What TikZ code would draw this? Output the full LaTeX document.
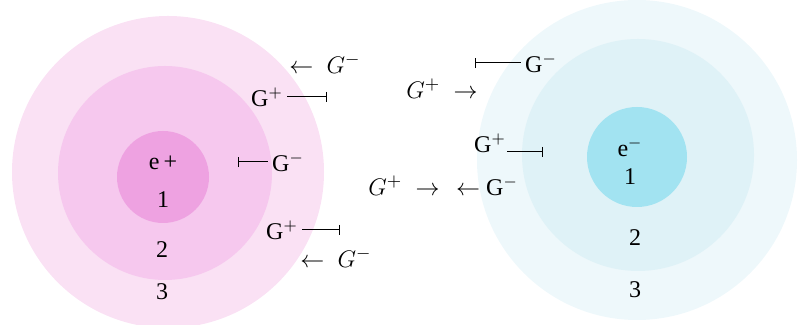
\documentclass[tikz,border=0pt]{standalone}
\usepackage{fontspec}
\setmainfont{Liberation Serif}
\usepackage{tikz}
\usetikzlibrary{arrows.meta}
\definecolor{cpinkA}{HTML}{FAE1F4}
\definecolor{cpinkB}{HTML}{F6C8EE}
\definecolor{cpinkC}{HTML}{EEA2E1}
\definecolor{cblueA}{HTML}{EEF8FB}
\definecolor{cblueB}{HTML}{DFF2F7}
\definecolor{cblueC}{HTML}{A2E3F1}
\tikzset{
  lbl/.style={inner sep=1pt, font=\fontsize{12}{14}\selectfont},
  glbl/.style={inner sep=1pt, font=\fontsize{13}{15}\selectfont},
  barline/.style={-{Bar[width=1.8mm,line width=0.5pt]}, line width=0.5pt, shorten <=1pt},
}
\begin{document}
\begin{tikzpicture}[x=0.5pt,y=0.5pt]
\useasboundingbox (0,0) rectangle (802,325);
\clip (0,0) rectangle (802,325);
% positive charge, shells 3-2-1
\fill[cpinkA] (168,153) circle[radius=156];
\fill[cpinkB] (165,152) circle[radius=107];
\fill[cpinkC] (163,148) circle[radius=46];
% negative charge, shells 3-2-1
\fill[cblueA] (637,165) circle[radius=160];
\fill[cblueB] (638,170) circle[radius=116];
\fill[cblueC] (637,168) circle[radius=50];
% shell labels
\node[lbl] (ep) at (163,162) {e\,+};
\node[lbl] (p1) at (163,125) {1};
\node[lbl] (p2) at (162,75) {2};
\node[lbl] (p3) at (162,33) {3};
\node[lbl] (em) at (630,178) {e$^{-}$};
\node[lbl] (m1) at (630,148) {1};
\node[lbl] (m2) at (635,87) {2};
\node[lbl] (m3) at (635,35) {3};
% field quanta round the positive charge
\node[glbl] (a1) at (325,261) {$\leftarrow\ G^{-}$};
\node[lbl] (a2) at (267,228) {G$^{+}$};
\coordinate (a2e) at (327,228);
\draw[barline] (a2) -- (a2e);
\node[lbl] (a3) at (288,163) {G$^{-}$};
\coordinate (a3e) at (238,163);
\draw[barline] (a3) -- (a3e);
\node[lbl] (a4) at (282,95) {G$^{+}$};
\coordinate (a4e) at (340,95);
\draw[barline] (a4) -- (a4e);
\node[glbl] (a5) at (336,67) {$\leftarrow\ G^{-}$};
% between the charges
\node[glbl] (b1) at (442,236) {$G^{+}\ \rightarrow$};
\node[glbl] (b2) at (404,139) {$G^{+}\ \rightarrow$};
\node[lbl] (b3) at (487,139) {$\leftarrow$\ G$^{-}$};
% field quanta round the negative charge
\node[lbl] (c1) at (541,262) {G$^{-}$};
\coordinate (c1e) at (475,262);
\draw[barline] (c1) -- (c1e);
\node[lbl] (c2) at (490,182) {G$^{+}$};
\coordinate (c2s) at (505,173);
\coordinate (c2e) at (543,173);
\draw[barline] (c2s) -- (c2e);
\end{tikzpicture}
\end{document}
